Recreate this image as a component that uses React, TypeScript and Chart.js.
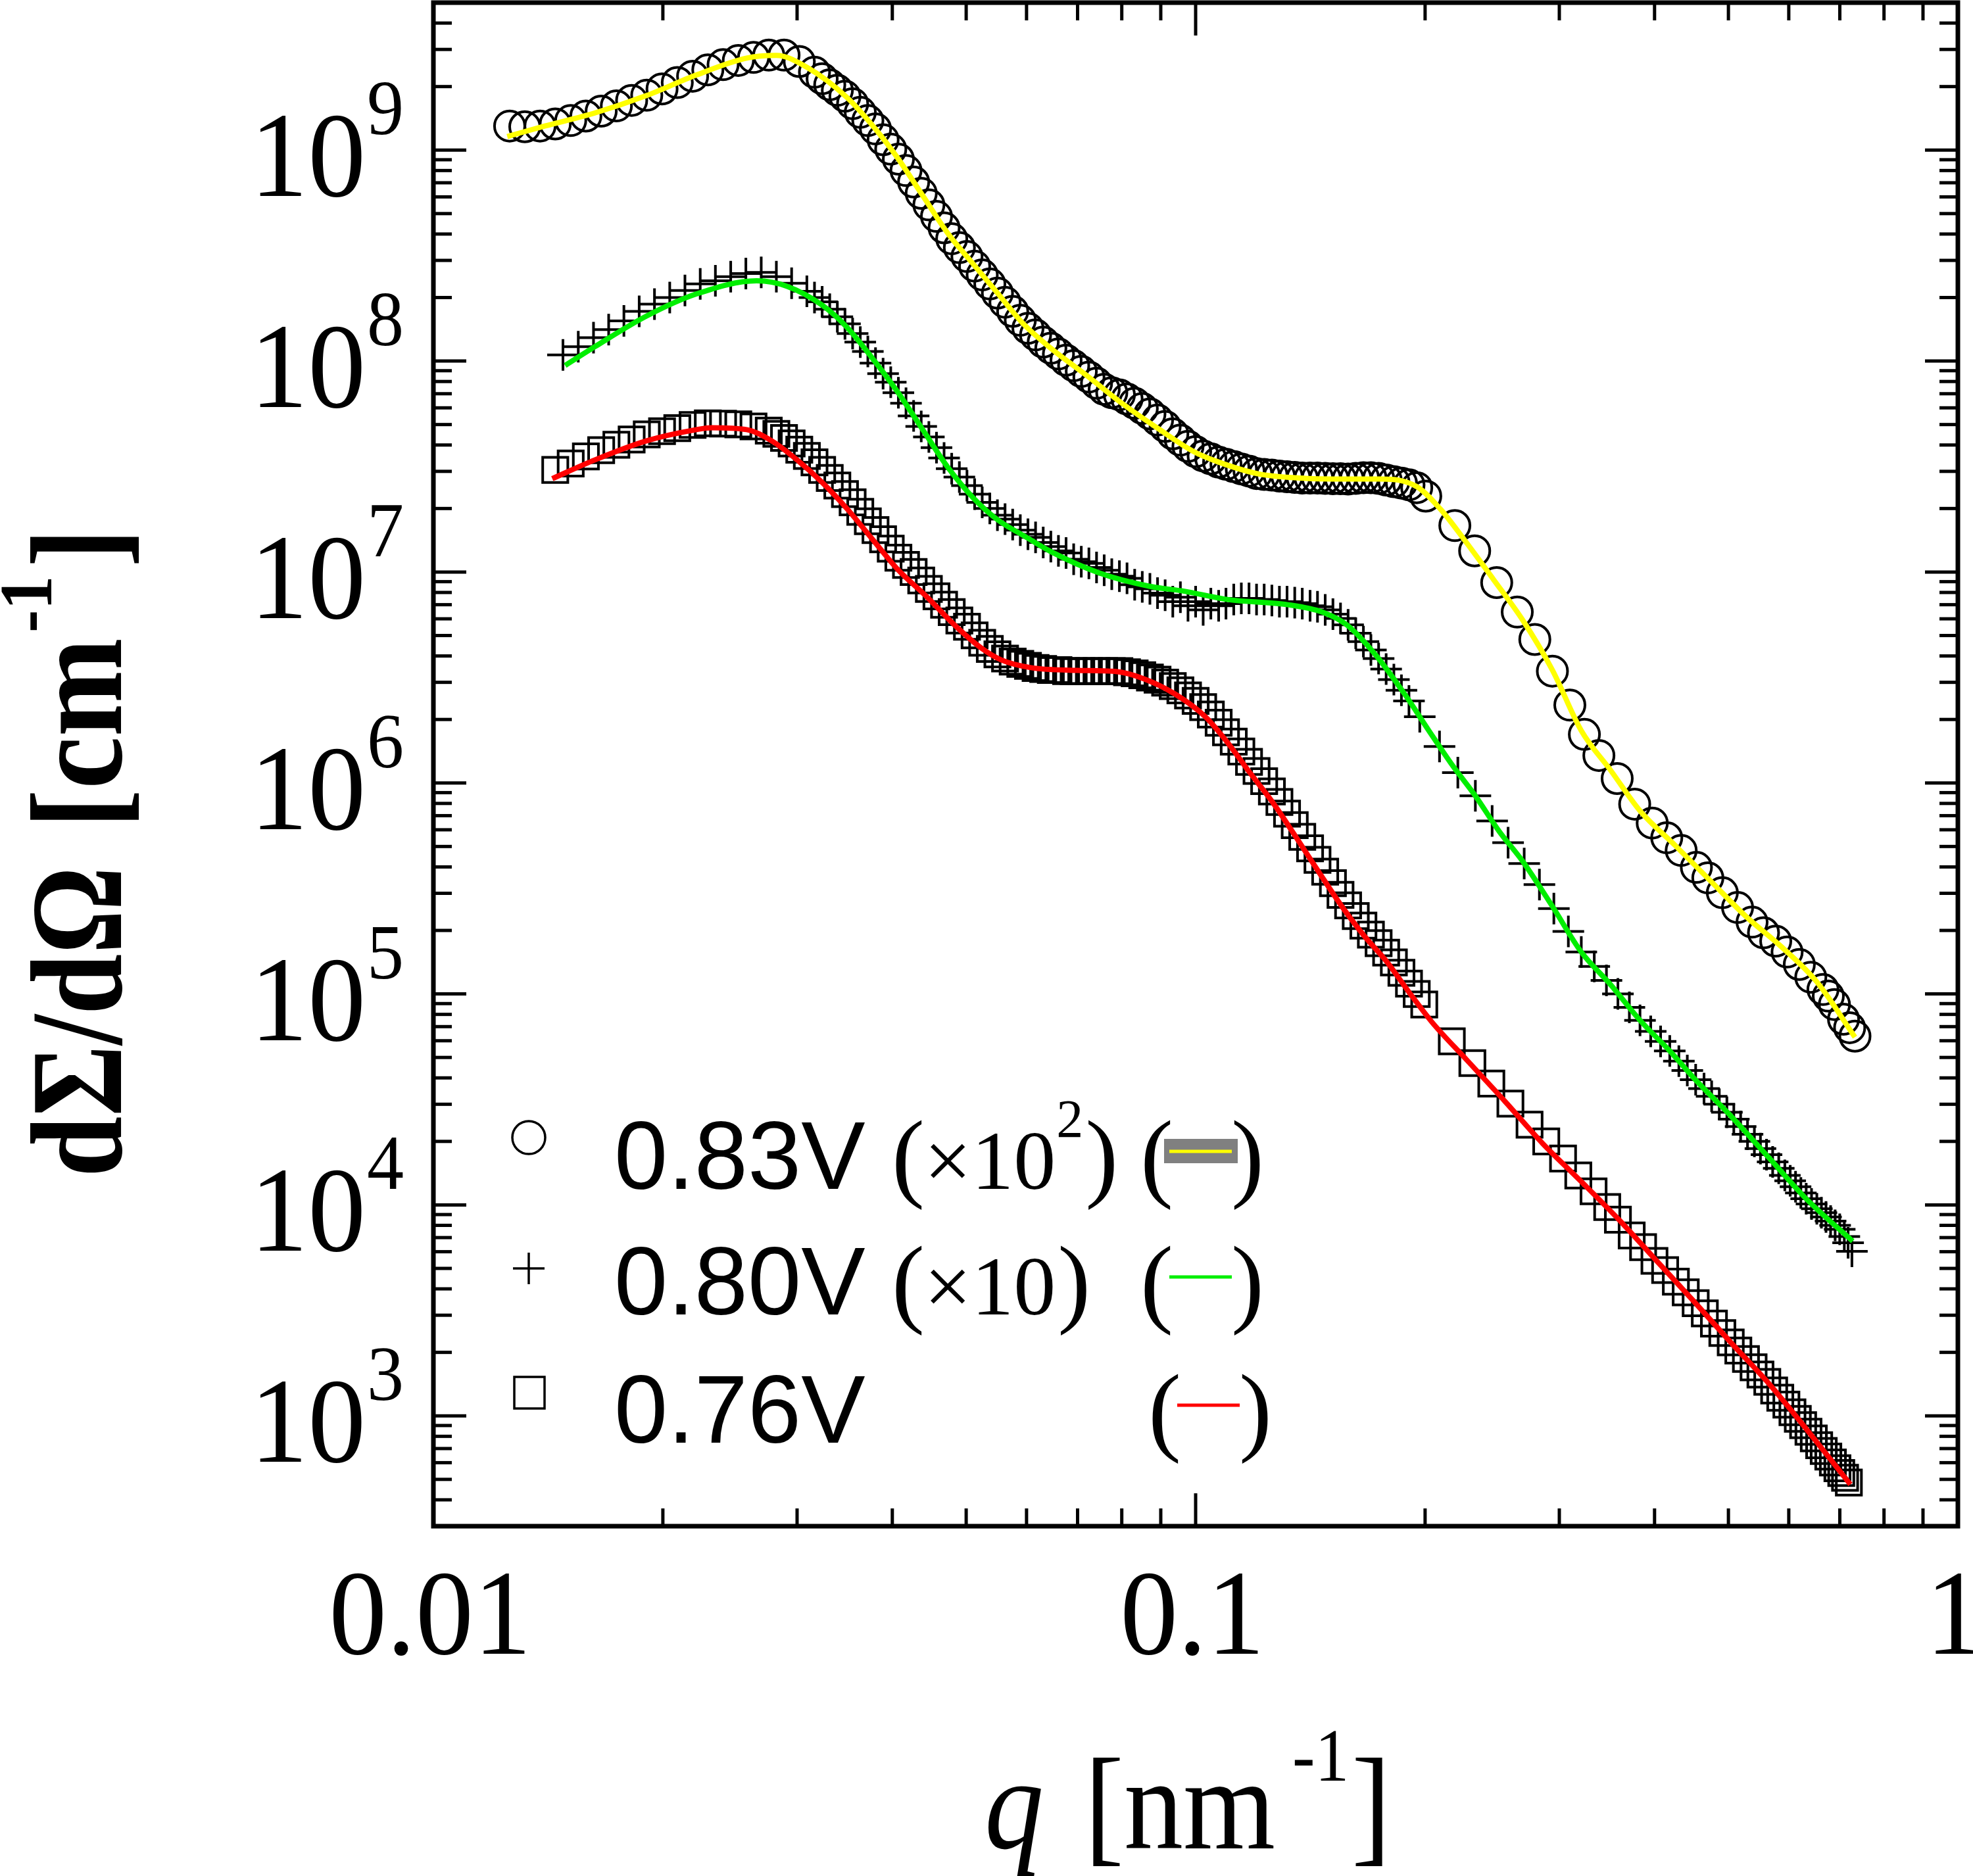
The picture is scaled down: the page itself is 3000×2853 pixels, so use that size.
import React, { useEffect, useRef } from 'react';
import { Chart, registerables } from 'chart.js';

Chart.register(...registerables);

const SERIF = '"Liberation Serif", "Times New Roman", Times, serif';
const SANS = '"Liberation Sans", Arial, Helvetica, sans-serif';

// ---------------- data (q in nm^-1, dΣ/dΩ in cm^-1) ----------------
// 0.83V (x10^2) measured points (open circles)
const q083 = [
  0.01259, 0.01318, 0.0138, 0.01445, 0.01514, 0.01585, 0.0166, 0.01738, 0.0182, 0.01905,
  0.01995, 0.02089, 0.02188, 0.02291, 0.02399, 0.02512, 0.0263, 0.02754, 0.02884, 0.0302,
  0.03162, 0.03236, 0.03311, 0.03388, 0.03467, 0.03548, 0.03631, 0.03715, 0.03802, 0.0389,
  0.03981, 0.04074, 0.04169, 0.04266, 0.04365, 0.04467, 0.04571, 0.04677, 0.04786, 0.04898,
  0.05012, 0.05129, 0.05248, 0.0537, 0.05495, 0.05623, 0.05754, 0.05888, 0.06026, 0.06166,
  0.0631, 0.06457, 0.06607, 0.06761, 0.06918, 0.07079, 0.07244, 0.07413, 0.07586, 0.07762,
  0.07943, 0.08128, 0.08318, 0.08511, 0.0871, 0.08913, 0.0912, 0.09333, 0.0955, 0.09772,
  0.1, 0.1023, 0.1047, 0.1072, 0.1096, 0.1122, 0.1148, 0.1175, 0.1202, 0.123,
  0.1259, 0.1288, 0.1318, 0.1349, 0.138, 0.1413, 0.1445, 0.1479, 0.1514, 0.1549,
  0.1585, 0.1622, 0.166, 0.1698, 0.1738, 0.1778, 0.182, 0.1862, 0.1905, 0.195,
  0.2004, 0.2188, 0.2323, 0.2483, 0.2642, 0.2786, 0.2938, 0.3097, 0.3236, 0.3381,
  0.3573, 0.3767, 0.3972, 0.415, 0.4335, 0.4539, 0.4699, 0.4909, 0.514, 0.537,
  0.5559, 0.5768, 0.597, 0.6194, 0.6412, 0.6653, 0.6761, 0.6887, 0.7079, 0.7211, 0.7328,
];
const i083 = [
  1.3e9, 1.29e9, 1.3e9, 1.33e9, 1.38e9, 1.45e9, 1.53e9, 1.62e9, 1.72e9, 1.82e9,
  1.95e9, 2.09e9, 2.24e9, 2.4e9, 2.54e9, 2.66e9, 2.75e9, 2.82e9, 2.82e9, 2.63e9,
  2.34e9, 2.18e9, 2.04e9, 1.92e9, 1.8e9, 1.66e9, 1.51e9, 1.38e9, 1.26e9, 1.12e9,
  1.01e9, 9.06e8, 8.0e8, 7.06e8, 6.24e8, 5.5e8, 4.85e8, 4.28e8, 3.8e8, 3.45e8,
  3.13e8, 2.82e8, 2.56e8, 2.32e8, 2.1e8, 1.9e8, 1.72e8, 1.56e8, 1.43e8, 1.33e8,
  1.23e8, 1.15e8, 1.08e8, 1.01e8, 9.51e7, 8.93e7, 8.4e7, 7.85e7, 7.35e7, 7.08e7,
  6.92e7, 6.61e7, 6.31e7, 5.96e7, 5.62e7, 5.25e7, 4.9e7, 4.52e7, 4.22e7, 3.94e7,
  3.72e7, 3.55e7, 3.44e7, 3.32e7, 3.24e7, 3.16e7, 3.08e7, 3.01e7, 2.93e7, 2.9e7,
  2.88e7, 2.85e7, 2.83e7, 2.81e7, 2.79e7, 2.79e7, 2.79e7, 2.78e7, 2.77e7, 2.77e7,
  2.76e7, 2.78e7, 2.8e7, 2.8e7, 2.78e7, 2.73e7, 2.68e7, 2.64e7, 2.59e7, 2.51e7,
  2.29e7, 1.66e7, 1.26e7, 8.91e6, 6.46e6, 4.79e6, 3.39e6, 2.34e6, 1.7e6, 1.35e6,
  1.05e6, 7.94e5, 6.46e5, 5.5e5, 4.79e5, 3.98e5, 3.55e5, 3.02e5, 2.57e5, 2.19e5,
  1.95e5, 1.78e5, 1.58e5, 1.38e5, 1.2e5, 1.05e5, 9.77e4, 8.91e4, 7.59e4, 6.92e4, 6.31e4,
];
// 0.83V fit (yellow)
const fitQ083 = [
  0.0125, 0.014, 0.01629, 0.01901, 0.02213, 0.02576, 0.02818, 0.0309, 0.03491, 0.03828,
  0.04064, 0.04385, 0.04732, 0.05105, 0.05508, 0.05943, 0.06457, 0.07211, 0.08017, 0.08933,
  0.09931, 0.1067, 0.1208, 0.1368, 0.1578, 0.1754, 0.195, 0.2094, 0.2249, 0.246,
  0.2685, 0.2938, 0.3206, 0.3508, 0.3828, 0.4266, 0.4742, 0.5272, 0.5861, 0.6531, 0.7328,
];
const fitI083 = [
  1.16e9, 1.3e9, 1.5e9, 1.81e9, 2.27e9, 2.73e9, 2.81e9, 2.47e9, 1.77e9, 1.22e9,
  9.18e8, 6.08e8, 4.02e8, 2.89e8, 2.08e8, 1.5e8, 1.15e8, 8.49e7, 6.28e7, 4.78e7,
  3.73e7, 3.34e7, 2.92e7, 2.79e7, 2.76e7, 2.76e7, 2.54e7, 1.99e7, 1.43e7, 9.2e6,
  5.93e6, 3.43e6, 1.77e6, 1.14e6, 7.38e5, 5.02e5, 3.42e5, 2.33e5, 1.68e5, 1.14e5, 6.24e4,
];

// 0.80V (x10) measured points (crosses)
const q080 = [
  0.01479, 0.01549, 0.01622, 0.01698, 0.01778, 0.01862, 0.0195, 0.02042, 0.02138, 0.02239,
  0.02344, 0.02455, 0.0257, 0.02692, 0.02818, 0.02951, 0.0309, 0.03162, 0.03236, 0.03311,
  0.03388, 0.03467, 0.03548, 0.03631, 0.03715, 0.03802, 0.0389, 0.03981, 0.04074, 0.04169,
  0.04266, 0.04365, 0.04467, 0.04571, 0.04677, 0.04786, 0.04898, 0.05012, 0.05129, 0.05248,
  0.0537, 0.05495, 0.05623, 0.05754, 0.05888, 0.06026, 0.06166, 0.0631, 0.06457, 0.06607,
  0.06761, 0.06918, 0.07079, 0.07244, 0.07413, 0.07586, 0.07762, 0.07943, 0.08128, 0.08318,
  0.08511, 0.0871, 0.08913, 0.0912, 0.09333, 0.0955, 0.09772, 0.1, 0.1023, 0.1047,
  0.1072, 0.1096, 0.1122, 0.1148, 0.1175, 0.1202, 0.123, 0.1259, 0.1288, 0.1318,
  0.1349, 0.138, 0.1413, 0.1445, 0.1479, 0.1514, 0.1549, 0.1585, 0.1622, 0.166,
  0.1698, 0.1738, 0.1778, 0.182, 0.1862, 0.1905,
  0.1968, 0.2089, 0.2208, 0.2328, 0.2449, 0.257, 0.2698, 0.2825, 0.2951, 0.3083,
  0.3206, 0.3334, 0.3459, 0.3581, 0.3707, 0.3828, 0.3954, 0.4074, 0.4188, 0.4305,
  0.4416, 0.4529, 0.4645, 0.4753, 0.4864, 0.4977, 0.5082, 0.5188, 0.5297, 0.5408,
  0.5508, 0.561, 0.5715, 0.5821, 0.5929, 0.6026, 0.6124, 0.6223, 0.6324, 0.6427,
  0.6531, 0.6622, 0.6714, 0.6808, 0.6902, 0.6998, 0.7096, 0.7178, 0.7261,
];
const i080 = [
  1.07e8, 1.17e8, 1.29e8, 1.41e8, 1.55e8, 1.72e8, 1.86e8, 2.0e8, 2.16e8, 2.32e8,
  2.4e8, 2.51e8, 2.6e8, 2.63e8, 2.51e8, 2.34e8, 2.14e8, 2.0e8, 1.91e8, 1.76e8,
  1.62e8, 1.5e8, 1.35e8, 1.23e8, 1.11e8, 9.77e7, 8.71e7, 7.94e7, 7.08e7, 6.31e7,
  5.5e7, 4.9e7, 4.37e7, 3.89e7, 3.47e7, 3.09e7, 2.82e7, 2.57e7, 2.34e7, 2.14e7,
  2.0e7, 1.86e7, 1.78e7, 1.68e7, 1.58e7, 1.51e7, 1.46e7, 1.38e7, 1.32e7, 1.26e7,
  1.23e7, 1.15e7, 1.12e7, 1.1e7, 1.05e7, 1.02e7, 9.77e6, 9.55e6, 9.33e6, 8.71e6,
  8.51e6, 8.32e6, 7.94e6, 7.76e6, 7.24e6, 7.59e6, 6.92e6, 7.24e6, 6.61e6, 7.08e6,
  6.92e6, 7.08e6, 7.41e6, 7.5e6, 7.5e6, 7.41e6, 7.41e6, 7.33e6, 7.24e6, 7.24e6,
  7.16e6, 7.08e6, 6.92e6, 6.84e6, 6.61e6, 6.31e6, 6.03e6, 5.62e6, 5.13e6, 4.68e6,
  4.27e6, 3.89e6, 3.47e6, 3.09e6, 2.75e6, 2.45e6,
  2.06e6, 1.49e6, 1.12e6, 8.69e5, 6.61e5, 5.21e5, 4.15e5, 3.3e5, 2.54e5, 1.98e5,
  1.58e5, 1.35e5, 1.16e5, 1.0e5, 8.63e4, 7.5e4, 6.65e4, 5.96e4, 5.37e4, 4.8e4,
  4.34e4, 3.92e4, 3.56e4, 3.27e4, 3.0e4, 2.75e4, 2.55e4, 2.35e4, 2.16e4, 2.0e4,
  1.85e4, 1.73e4, 1.6e4, 1.49e4, 1.38e4, 1.3e4, 1.22e4, 1.14e4, 1.07e4, 1.01e4,
  9.59e3, 9.18e3, 8.77e3, 8.38e3, 8.0e3, 7.66e3, 7.08e3, 6.61e3, 6.03e3,
];
// 0.80V fit (green)
const fitQ080 = [
  0.01489, 0.01629, 0.01901, 0.02213, 0.02655, 0.02911, 0.03236, 0.03491, 0.03767, 0.04064,
  0.04385, 0.04732, 0.05105, 0.05508, 0.05943, 0.06457, 0.07482, 0.0871, 0.09661, 0.1104,
  0.1321, 0.1469, 0.1578, 0.1722, 0.1884, 0.2023, 0.2173, 0.2328, 0.25, 0.2685,
  0.2938, 0.3206, 0.3508, 0.3828, 0.4188, 0.4508, 0.5047, 0.5662, 0.6339, 0.7278,
];
const fitI080 = [
  9.53e7, 1.17e8, 1.63e8, 2.08e8, 2.4e8, 2.26e8, 1.84e8, 1.44e8, 1.03e8, 7.15e7,
  4.73e7, 3.13e7, 2.25e7, 1.76e7, 1.49e7, 1.25e7, 9.89e6, 8.55e6, 8.11e6, 7.4e6,
  7.0e6, 6.44e6, 5.62e6, 4.05e6, 2.61e6, 1.77e6, 1.21e6, 8.69e5, 5.92e5, 4.26e5,
  2.6e5, 1.58e5, 1.1e5, 7.5e4, 5.37e4, 3.98e4, 2.62e4, 1.66e4, 1.06e4, 6.73e3,
];

// 0.76V measured points (open squares)
const q076 = [
  0.01445, 0.01514, 0.01585, 0.0166, 0.01738, 0.0182, 0.01905, 0.01995, 0.02089, 0.02188,
  0.02291, 0.02399, 0.02512, 0.0263, 0.02754, 0.02818, 0.02884, 0.02951, 0.0302, 0.0309,
  0.03162, 0.03236, 0.03311, 0.03388, 0.03467, 0.03548, 0.03631, 0.03715, 0.03802, 0.0389,
  0.03981, 0.04074, 0.04169, 0.04266, 0.04365, 0.04467, 0.04571, 0.04677, 0.04786, 0.04898,
  0.05012, 0.05129, 0.05248, 0.0537, 0.05495, 0.05623, 0.05754, 0.05888, 0.06026, 0.06166,
  0.0631, 0.06457, 0.06607, 0.06761, 0.06918, 0.07079, 0.07244, 0.07413, 0.07586, 0.07762,
  0.07943, 0.08128, 0.08318, 0.08511, 0.0871, 0.08913, 0.0912, 0.09333, 0.0955, 0.09772,
  0.1, 0.1023, 0.1047, 0.1072, 0.1096, 0.1122, 0.1148, 0.1175, 0.1202, 0.123,
  0.1259, 0.1288, 0.1318, 0.1349, 0.138, 0.1413, 0.1445, 0.1479, 0.1514, 0.1549,
  0.1585, 0.1622, 0.166, 0.1698, 0.1738, 0.1778, 0.182, 0.1862, 0.1905, 0.195, 0.1995,
  0.2168, 0.2307, 0.2443, 0.2588, 0.2742, 0.2884, 0.3034, 0.3177, 0.3327, 0.3467,
  0.3581, 0.3733, 0.3864, 0.3999, 0.413, 0.4266, 0.4395, 0.4529, 0.4656, 0.4786,
  0.4909, 0.5035, 0.5152, 0.5272, 0.5395, 0.5508, 0.5623, 0.5741, 0.5848, 0.5957,
  0.6067, 0.6166, 0.6266, 0.6368, 0.6471, 0.6577, 0.6668, 0.6761, 0.6855, 0.695,
  0.7031, 0.7112, 0.7194,
];
const i076 = [
  3.05e7, 3.27e7, 3.53e7, 3.78e7, 4.01e7, 4.25e7, 4.49e7, 4.65e7, 4.81e7, 4.98e7,
  5.07e7, 5.05e7, 5.01e7, 4.9e7, 4.68e7, 4.52e7, 4.32e7, 4.07e7, 3.8e7, 3.55e7,
  3.31e7, 3.05e7, 2.79e7, 2.57e7, 2.34e7, 2.14e7, 1.93e7, 1.74e7, 1.58e7, 1.43e7,
  1.29e7, 1.17e7, 1.08e7, 1.0e7, 9.12e6, 8.32e6, 7.67e6, 7.0e6, 6.46e6, 5.89e6,
  5.5e6, 5.01e6, 4.62e6, 4.32e6, 4.07e6, 3.89e6, 3.76e6, 3.67e6, 3.59e6, 3.51e6,
  3.47e6, 3.43e6, 3.43e6, 3.39e6, 3.39e6, 3.39e6, 3.39e6, 3.39e6, 3.39e6, 3.39e6,
  3.39e6, 3.35e6, 3.31e6, 3.24e6, 3.16e6, 3.09e6, 2.99e6, 2.88e6, 2.75e6, 2.6e6,
  2.45e6, 2.29e6, 2.11e6, 1.93e6, 1.74e6, 1.57e6, 1.41e6, 1.26e6, 1.14e6, 1.02e6,
  9.12e5, 8.13e5, 7.16e5, 6.31e5, 5.56e5, 4.9e5, 4.32e5, 3.8e5, 3.35e5, 2.95e5,
  2.63e5, 2.34e5, 2.11e5, 1.91e5, 1.74e5, 1.57e5, 1.41e5, 1.26e5, 1.12e5, 1.0e5, 8.91e4,
  5.96e4, 4.7e4, 3.76e4, 3.02e4, 2.4e4, 2.0e4, 1.66e4, 1.38e4, 1.16e4, 9.77e3,
  8.51e3, 7.16e3, 6.31e3, 5.43e3, 4.91e3, 4.33e3, 3.85e3, 3.42e3, 3.06e3, 2.74e3,
  2.47e3, 2.23e3, 2.04e3, 1.86e3, 1.7e3, 1.57e3, 1.45e3, 1.32e3, 1.22e3, 1.13e3,
  1.04e3, 968, 904, 841, 782, 726, 682, 641, 601, 565,
  536, 509, 483,
];
// 0.76V fit (red)
const fitQ076 = [
  0.01432, 0.01629, 0.01901, 0.02213, 0.02317, 0.02576, 0.0278, 0.03, 0.03236, 0.03491,
  0.03767, 0.04064, 0.04426, 0.04842, 0.05248, 0.05559, 0.06081, 0.06982, 0.07834, 0.0857,
  0.09397, 0.103, 0.1102, 0.118, 0.1265, 0.1355, 0.1449, 0.1552, 0.1663, 0.1782,
  0.1905, 0.2042, 0.227, 0.2547, 0.2851, 0.3199, 0.3581, 0.4018, 0.4508, 0.5047,
  0.5662, 0.6339, 0.7228,
];
const fitI076 = [
  2.77e7, 3.4e7, 4.18e7, 4.73e7, 4.83e7, 4.73e7, 4.18e7, 3.4e7, 2.66e7, 1.99e7,
  1.43e7, 1.03e7, 7.71e6, 5.55e6, 4.33e6, 3.83e6, 3.52e6, 3.42e6, 3.38e6, 3.11e6,
  2.64e6, 2.06e6, 1.55e6, 1.11e6, 8.0e5, 5.52e5, 3.81e5, 2.63e5, 1.89e5, 1.42e5,
  1.02e5, 7.35e4, 4.85e4, 3.09e4, 1.96e4, 1.3e4, 8.61e3, 5.47e3, 3.48e3, 2.21e3,
  1.41e3, 859, 473,
];

const seriesLabels = ['0.83V', '0.80V', '0.76V'];
const scaleFactors = ['×10', '×10', ''];
const scaleExponents = ['2', '', ''];
const fitColors = ['#ffff00', '#00ee00', '#ff0000'];
const xTickValues = [0.01, 0.1, 1];
const xTickLabels = ['0.01', '0.1', '1'];
const yTickValues = [1e3, 1e4, 1e5, 1e6, 1e7, 1e8, 1e9];
const yTickExponents = ['3', '4', '5', '6', '7', '8', '9'];
const X_MIN = 0.01;
const X_MAX = 1;
const Y_MIN = 300;
const Y_MAX = 5e9;

const pts = (q: number[], v: number[]) => q.map((x, i) => ({ x, y: v[i] }));

function txt(ctx: CanvasRenderingContext2D, s: string, x: number, y: number, font: string, align: CanvasTextAlign = 'left', sx = 1) {
  ctx.save();
  ctx.font = font;
  ctx.textAlign = align;
  ctx.textBaseline = 'alphabetic';
  ctx.translate(x, y);
  ctx.scale(sx, 1);
  ctx.fillText(s, 0, 0);
  ctx.restore();
}

const framePlugin = {
  id: 'sasFrame',
  afterDatasetsDraw(chart: any) {
    const ctx: CanvasRenderingContext2D = chart.ctx;
    const a = chart.chartArea;
    const xs = chart.scales.x;
    const ys = chart.scales.y;
    ctx.save();
    ctx.strokeStyle = '#000';
    ctx.fillStyle = '#000';
    ctx.lineCap = 'butt';
    const seg = (x1: number, y1: number, x2: number, y2: number) => {
      ctx.beginPath();
      ctx.moveTo(x1, y1);
      ctx.lineTo(x2, y2);
      ctx.stroke();
    };
    // ticks (inside, mirrored)
    ctx.lineWidth = 5;
    for (let e = -2; e < 0; e++) {
      for (let m = 1; m <= 9; m++) {
        const v = m * Math.pow(10, e);
        const px = xs.getPixelForValue(v);
        if (px < a.left + 4 || px > a.right - 4) continue;
        const len = m === 1 ? 50 : 27;
        seg(px, a.bottom, px, a.bottom - len);
        seg(px, a.top, px, a.top + len);
      }
    }
    for (let e = 2; e <= 9; e++) {
      for (let m = 1; m <= 9; m++) {
        const v = m * Math.pow(10, e);
        if (v < Y_MIN || v > Y_MAX) continue;
        const py = ys.getPixelForValue(v);
        if (py < a.top + 4 || py > a.bottom - 4) continue;
        const len = m === 1 ? 50 : 28;
        seg(a.left, py, a.left + len, py);
        seg(a.right, py, a.right - len, py);
      }
    }
    ctx.lineWidth = 7;
    ctx.strokeRect(a.left, a.top, a.right - a.left, a.bottom - a.top);

    // tick labels
    yTickValues.forEach((v, i) => {
      const py = ys.getPixelForValue(v);
      txt(ctx, '10', a.left - 103, py + 70, `185px ${SERIF}`, 'right', 0.95);
      txt(ctx, yTickExponents[i], a.left - 101, py - 24, `118px ${SERIF}`, 'left', 0.95);
    });
    xTickValues.forEach((v, i) => {
      const px = xs.getPixelForValue(v);
      txt(ctx, xTickLabels[i], px - 5, a.bottom + 194, `185px ${SERIF}`, 'center', 0.95);
    });

    // x title
    const by = a.bottom + 490;
    txt(ctx, 'q', 1497, by, `italic 200px ${SERIF}`, 'left', 0.9);
    txt(ctx, '[nm', 1649, by, `200px ${SERIF}`, 'left', 0.9);
    txt(ctx, '-1', 1965, by - 103, `115px ${SERIF}`, 'left', 0.9);
    txt(ctx, ']', 2055, by, `200px ${SERIF}`, 'left', 0.9);

    // y title (rotated)
    ctx.save();
    ctx.translate(184, 1788);
    ctx.rotate(-Math.PI / 2);
    txt(ctx, 'dΣ/dΩ', -2, 0, `bold 200px ${SERIF}`, 'left', 0.83);
    txt(ctx, '[cm', 528, 0, `bold 200px ${SERIF}`, 'left', 0.9);
    txt(ctx, '-1', 826, -106, `bold 115px ${SERIF}`, 'left', 0.9);
    txt(ctx, ']', 925, 0, `bold 200px ${SERIF}`, 'left', 0.9);
    ctx.restore();

    // legend
    const rows = [1808, 1999, 2194];
    ctx.lineWidth = 3.5;
    ctx.beginPath();
    ctx.arc(804, rows[0] - 78, 25, 0, Math.PI * 2);
    ctx.stroke();
    seg(780, rows[1] - 70, 828, rows[1] - 70);
    seg(804, rows[1] - 94, 804, rows[1] - 46);
    ctx.strokeRect(782, rows[2] - 100, 46, 48);

    rows.forEach((by2, i) => {
      txt(ctx, seriesLabels[i], 934, by2, `146px ${SANS}`);
      if (scaleFactors[i]) {
        txt(ctx, '(', 1356, by2, `150px ${SERIF}`);
        ctx.font = `128px ${SERIF}`;
        let end = 1405 + ctx.measureText(scaleFactors[i]).width;
        txt(ctx, scaleFactors[i], 1405, by2, `128px ${SERIF}`);
        if (scaleExponents[i]) {
          txt(ctx, scaleExponents[i], end + 1, by2 - 79, `82px ${SERIF}`);
          ctx.font = `82px ${SERIF}`;
          end += ctx.measureText(scaleExponents[i]).width + 1;
        }
        txt(ctx, ')', end + 3, by2, `150px ${SERIF}`);
      }
      const off = i === 2 ? 12 : 0;
      txt(ctx, '(', 1734 + off, by2, `150px ${SERIF}`);
      txt(ctx, ')', 1872 + off, by2, `150px ${SERIF}`);
      if (i === 0) {
        ctx.fillStyle = '#808080';
        ctx.fillRect(1770, by2 - 76, 112, 37);
        ctx.fillStyle = '#000';
      }
      ctx.strokeStyle = fitColors[i];
      ctx.lineWidth = 5;
      seg(1778 + off, by2 - 57, 1873 + off, by2 - 57);
      ctx.strokeStyle = '#000';
      ctx.lineWidth = 3.5;
    });
    ctx.restore();
  },
};

export default function App() {
  const ref = useRef<HTMLCanvasElement | null>(null);
  useEffect(() => {
    if (!ref.current) return;
    const markerBase = {
      showLine: false,
      borderColor: '#000',
      backgroundColor: 'rgba(0,0,0,0)',
      pointBorderColor: '#000',
      pointBackgroundColor: 'rgba(0,0,0,0)',
      order: 1,
    };
    const fitBase = {
      showLine: true,
      pointRadius: 0,
      pointHoverRadius: 0,
      borderWidth: 8,
      cubicInterpolationMode: 'monotone' as const,
      fill: false,
      order: 0,
    };
    const chart = new Chart(ref.current, {
      type: 'scatter',
      data: {
        datasets: [
          { ...markerBase, label: '0.83V data', data: pts(q083, i083), pointStyle: 'circle', pointRadius: 23, pointBorderWidth: 4 },
          { ...markerBase, label: '0.80V data', data: pts(q080, i080), pointStyle: 'cross', pointRadius: 24, pointBorderWidth: 4 },
          { ...markerBase, label: '0.76V data', data: pts(q076, i076), pointStyle: 'rect', pointRadius: 27, pointBorderWidth: 4 },
          { ...fitBase, label: '0.83V fit', data: pts(fitQ083, fitI083), borderColor: fitColors[0] },
          { ...fitBase, label: '0.80V fit', data: pts(fitQ080, fitI080), borderColor: fitColors[1] },
          { ...fitBase, label: '0.76V fit', data: pts(fitQ076, fitI076), borderColor: fitColors[2] },
        ] as any,
      },
      options: {
        animation: false,
        responsive: true,
        maintainAspectRatio: false,
        devicePixelRatio: 1,
        layout: { autoPadding: false, padding: { left: 659, right: 23, top: 4, bottom: 532 } },
        plugins: { legend: { display: false }, tooltip: { enabled: false }, title: { display: false } },
        events: [],
        scales: {
          x: { type: 'logarithmic', min: X_MIN, max: X_MAX, display: false, bounds: 'data' },
          y: { type: 'logarithmic', min: Y_MIN, max: Y_MAX, display: false, bounds: 'data' },
        },
      } as any,
      plugins: [framePlugin],
    });
    return () => chart.destroy();
  }, []);
  return (
    <div style={{ position: 'absolute', left: 0, top: 0, width: '3000px', height: '2853px', background: '#fff' }}>
      <canvas ref={ref} style={{ display: 'block' }} />
    </div>
  );
}
